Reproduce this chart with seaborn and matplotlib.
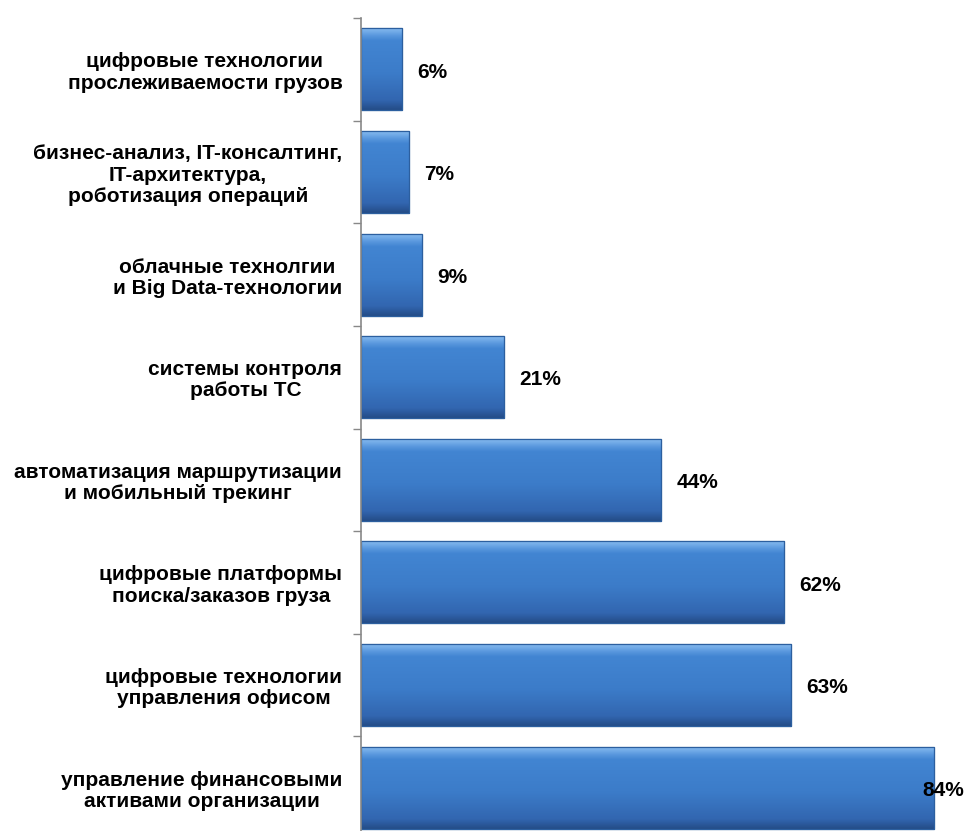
import numpy as np
import pandas as pd
import matplotlib
matplotlib.use("Agg")
import matplotlib.pyplot as plt
from matplotlib.colors import LinearSegmentedColormap
from matplotlib.ticker import FixedLocator
import seaborn as sns

categories = [
    "цифровые технологии\nпрослеживаемости грузов",
    "бизнес-анализ, IT-консалтинг,\nIT-архитектура,\nроботизация операций",
    "облачные технолгии\nи Big Data-технологии",
    "системы контроля\nработы ТС",
    "автоматизация маршрутизации\nи мобильный трекинг",
    "цифровые платформы\nпоиска/заказов груза",
    "цифровые технологии\nуправления офисом",
    "управление финансовыми\nактивами организации",
]
shares = [6, 7, 9, 21, 44, 62, 63, 84]

df = pd.DataFrame({"category": categories, "share": shares})

sns.set_theme(style="white")
plt.rcParams["font.family"] = ["Liberation Sans", "DejaVu Sans"]

fig = plt.figure(figsize=(9.68, 8.31), dpi=100)
ax = fig.add_axes([361 / 968, -8 / 831, 1 - 361 / 968, (831 - 18 + 8) / 831])

sns.barplot(data=df, x="share", y="category", orient="h", width=0.8,
            color="#3b78c6", edgecolor="#2c5f9f", linewidth=0.8, ax=ax,
            saturation=1)

ax.set_xlim(0, 89)
ax.set_ylim(len(categories) - 0.5, -0.5)

# vertical bevel-like gradient clipped to every bar
cmap = LinearSegmentedColormap.from_list(
    "bevel",
    [(0.0, "#8dc0f2"), (0.10, "#5a98de"), (0.16, "#4285d2"),
     (0.55, "#3c7cc9"), (0.88, "#3266b0"), (1.0, "#244c87")])
grad = np.linspace(0, 1, 256).reshape(-1, 1)
for patch in list(ax.patches):
    x0, y0 = patch.get_x(), patch.get_y()
    w, h = patch.get_width(), patch.get_height()
    im = ax.imshow(grad, cmap=cmap, aspect="auto",
                   extent=(x0, x0 + w, y0 + h, y0), zorder=patch.get_zorder() + 0.1,
                   interpolation="bicubic")
    im.set_clip_path(patch)
    edge = plt.Rectangle((x0, y0), w, h, fill=False, edgecolor="#2c5f9f",
                         linewidth=0.9, zorder=patch.get_zorder() + 0.2)
    ax.add_patch(edge)

# value labels
for i, v in enumerate(shares):
    xpix = ax.transData.transform((v, 0))[0]
    if xpix + 60 > fig.bbox.width:
        ax.annotate(f"{v}%", xy=(1.0, i), xycoords=("axes fraction", "data"),
                    xytext=(-3, -2), textcoords="offset points",
                    ha="right", va="center", fontsize=15, fontweight="bold",
                    color="black", zorder=10)
    else:
        ax.annotate(f"{v}%", xy=(v, i), xytext=(11, -2), textcoords="offset points",
                    ha="left", va="center", fontsize=15, fontweight="bold",
                    color="black", zorder=10)

ax.set_xlabel("")
ax.set_ylabel("")
ax.set_xticks([])
ax.tick_params(axis="y", which="major", length=0, pad=13.5)
ax.yaxis.set_minor_locator(FixedLocator(np.arange(-0.5, len(categories), 1.0)))
ax.tick_params(axis="y", which="minor", length=6, width=1, color="#888888", left=True)
for lbl in ax.get_yticklabels():
    lbl.set_fontweight("bold")
    lbl.set_fontsize(15)
    lbl.set_linespacing(1.15)
    lbl.set_multialignment("center")
    lbl.set_color("black")

for side in ("top", "right", "bottom"):
    ax.spines[side].set_visible(False)
ax.spines["left"].set_color("#888888")
ax.spines["left"].set_linewidth(1.2)

fig.savefig("out.png", dpi=100)
